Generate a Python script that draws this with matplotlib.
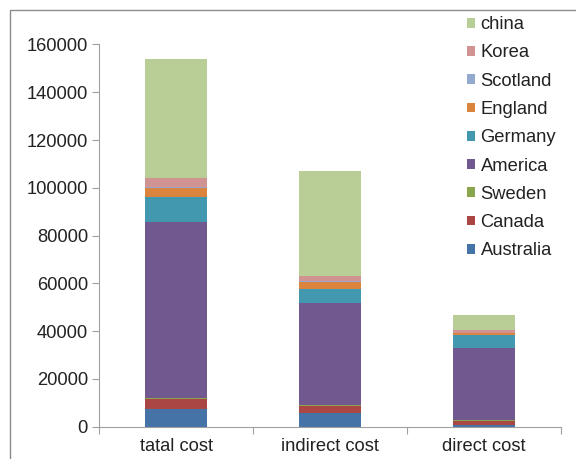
import matplotlib.pyplot as plt
from matplotlib.patches import Rectangle, Patch

plt.rcParams['font.family'] = ['Liberation Sans', 'DejaVu Sans']

# categories and stacked series (bottom -> top)
categories = ['tatal cost', 'indirect cost', 'direct cost']
countries = ['Australia', 'Canada', 'Sweden', 'America', 'Germany',
             'England', 'Scotland', 'Korea', 'china']
values = {
    'Australia': [7300, 5700, 700],
    'Canada':    [4400, 3100, 1700],
    'Sweden':    [400, 400, 500],
    'America':   [73650, 42700, 30100],
    'Germany':   [10350, 5700, 5300],
    'England':   [3900, 3050, 800],
    'Scotland':  [300, 200, 200],
    'Korea':     [3900, 2200, 1200],
    'china':     [49650, 43900, 6150],
}
colors = {
    'Australia': '#4572A7', 'Canada': '#AA4643', 'Sweden': '#89A54E',
    'America': '#71588F', 'Germany': '#4198AF', 'England': '#DB843D',
    'Scotland': '#93A9CF', 'Korea': '#D19392', 'china': '#B9CD96',
}

fs = 13.2
fig = plt.figure(figsize=(5.76, 4.59), dpi=100)
ax = fig.add_axes([99 / 576, 1 - 426.7 / 459, (561 - 99) / 576, (426.7 - 44.5) / 459])

# outer frame of the chart area
fig.patches.append(Rectangle((10 / 576, -0.1), 1.2, 1 - 10 / 459 + 0.1,
                             transform=fig.transFigure, fill=False,
                             edgecolor='#8c8c8c', linewidth=1.0))

x = range(len(categories))
bottom = [0] * len(categories)
for c in countries:
    ax.bar(x, values[c], width=0.4, bottom=bottom, color=colors[c], linewidth=0)
    bottom = [b + v for b, v in zip(bottom, values[c])]

ax.set_xlim(-0.5, 2.5)
ax.set_ylim(0, 160000)
ax.set_yticks(range(0, 160001, 20000))
ax.set_xticks([-0.5, 0.5, 1.5, 2.5], minor=False)
ax.set_xticklabels([])
ax.set_xticks(list(x), minor=True)
ax.set_xticklabels(categories, minor=True)
ax.tick_params(axis='x', which='minor', length=0, pad=8, labelsize=fs, labelcolor='#222222')
ax.tick_params(axis='x', which='major', length=5, color='#a0a0a0')
ax.tick_params(axis='y', length=5, color='#a0a0a0', labelsize=fs, labelcolor='#222222', pad=3)

for s in ['top', 'right']:
    ax.spines[s].set_visible(False)
for s in ['left', 'bottom']:
    ax.spines[s].set_color('#a0a0a0')

handles = [Patch(facecolor=colors[c], label=c) for c in reversed(countries)]
ax.legend(handles=handles, loc='upper left', bbox_to_anchor=(458 / 576, 1 - 7 / 459),
          bbox_transform=fig.transFigure, frameon=False, fontsize=fs,
          handlelength=0.45, handleheight=0.45, handletextpad=0.28,
          labelspacing=0.615, borderpad=0, labelcolor='#222222')

fig.savefig('out.png', dpi=100)
